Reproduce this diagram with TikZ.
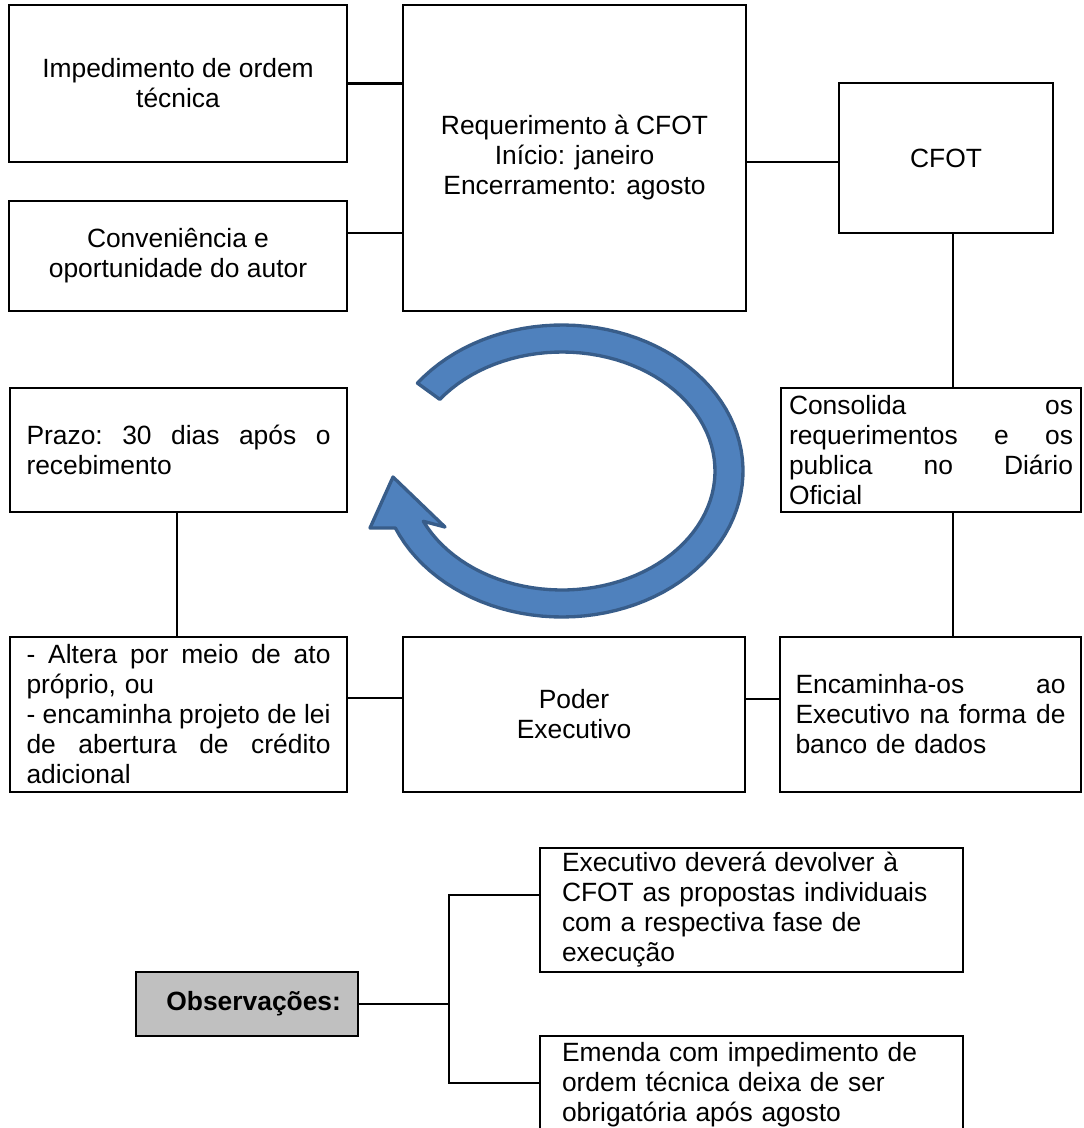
\documentclass[tikz,border=0pt]{standalone}
\usepackage{fontspec}
\setmainfont{Liberation Sans}
\usetikzlibrary{calc}
\definecolor{arrfill}{HTML}{4F81BD}
\definecolor{arrline}{HTML}{385D8A}
\definecolor{obsgray}{HTML}{C0C0C0}
\newcommand\jl[2]{\makebox[#1][l]{#2}}
\begin{document}
\begin{tikzpicture}[x=0.75pt,y=-0.75pt,
  bx/.style={draw, line width=2pt, inner sep=0pt, outer sep=0pt,
    font=\fontsize{19.8pt}{22.5pt}\selectfont, align=center},
  conn/.style={line width=1.6pt},
  ringarrow/.style={draw=arrline, fill=arrfill, line width=2.5pt, line join=round}]
\clip (0,0) rectangle (1083,1128);
\fill[white] (0,0) rectangle (1083,1128);

% top row
\node[bx, minimum width=253.5pt, minimum height=117.75pt] (imp) at (178,83.5)
  {Impedimento de ordem\\técnica};
\node[bx, minimum width=253.5pt, minimum height=82.5pt] (conv) at (178,256)
  {Conveniência e\\oportunidade do autor};
\node[bx, minimum width=257.25pt, minimum height=229.5pt] (req) at (574.5,158)
  {Requerimento à CFOT\\Início: janeiro\\Encerramento: agosto};
\node[bx, minimum width=160.5pt, minimum height=112.5pt] (cfot) at (946,158) {CFOT};

% middle row
\node[bx, minimum width=225pt, minimum height=93pt, text width=213pt, align=left] (cons) at (931,450)
  {\jl{213pt}{Consolida\hfill os}\\\jl{213pt}{requerimentos\hfill e\hfill os}\\\jl{213pt}{publica\hfill no\hfill Diário}\\Oficial};
\node[bx, minimum width=252.75pt, minimum height=93pt, text width=228pt, align=left] (prazo) at (178.5,450)
  {\jl{228pt}{Prazo:\hfill 30\hfill dias\hfill após\hfill o}\\recebimento};

% bottom row
\node[bx, minimum width=252.75pt, minimum height=116.25pt, text width=228pt, align=left] (alt) at (178.5,714.5)
  {\jl{228pt}{-\hfill Altera\hfill por\hfill meio\hfill de\hfill ato}\\próprio, ou\\\jl{228pt}{-\hfill encaminha\hfill projeto\hfill de\hfill lei}\\\jl{228pt}{de\hfill abertura\hfill de\hfill crédito}\\adicional};
\node[bx, minimum width=256.5pt, minimum height=116.25pt] (poder) at (574,714.5)
  {Poder\\Executivo};
\node[bx, minimum width=225.75pt, minimum height=116.25pt, text width=202.5pt, align=left] (enc) at (930.5,714.5)
  {\jl{202.5pt}{Encaminha-os\hfill ao}\\\jl{202.5pt}{Executivo\hfill na\hfill forma\hfill de}\\banco de dados};

% observations
\node[bx, fill=obsgray, minimum width=166.5pt, minimum height=48pt] (obs) at (247,1004)
  {\hspace*{10pt}\textbf{Observações:}};
\node[bx, minimum width=317.25pt, minimum height=93pt, text width=284.25pt, align=left] (obsa) at (751.5,910)
  {Executivo deverá devolver à\\CFOT as propostas individuais\\com a respectiva fase de\\execução};
\node[bx, minimum width=317.25pt, minimum height=73.5pt, text width=284.25pt, align=left] (obsb) at (751.5,1085)
  {Emenda com impedimento de\\ordem técnica deixa de ser\\obrigatória após agosto};

% connectors
\draw[conn] (imp.east) -- (req.west |- imp.east);
\draw[conn] (conv.east |- 0,233) -- (req.west |- 0,233);
\draw[conn] (req.east |- 0,162) -- (cfot.west |- 0,162);
\draw[conn] (cfot.south -| 953,0) -- (cons.north -| 953,0);
\draw[conn] (cons.south -| 953,0) -- (enc.north -| 953,0);
\draw[conn] (poder.east |- 0,699) -- (enc.west |- 0,699);
\draw[conn] (alt.east |- 0,698) -- (poder.west |- 0,698);
\draw[conn] (prazo.south -| 177,0) -- (alt.north -| 177,0);
\coordinate (jt) at (449,895);
\coordinate (jb) at (449,1083);
\draw[conn] (obs.east) -- (obs.east -| jt);
\draw[conn] (obsa.west |- jt) -- (jt) -- (jb) -- (obsb.west |- jb);

% circular arrow
\draw[ringarrow]
  plot[domain=0:300, samples=90] ({562+181*cos(143-\x)},{471-146*sin(143-\x)})
  -- (370,528) -- (393,477) -- (445,527)
  -- plot[domain=0:298, samples=90] ({562+153*cos(-155+\x)},{471-119*sin(-155+\x)})
  -- cycle;
\end{tikzpicture}
\end{document}
